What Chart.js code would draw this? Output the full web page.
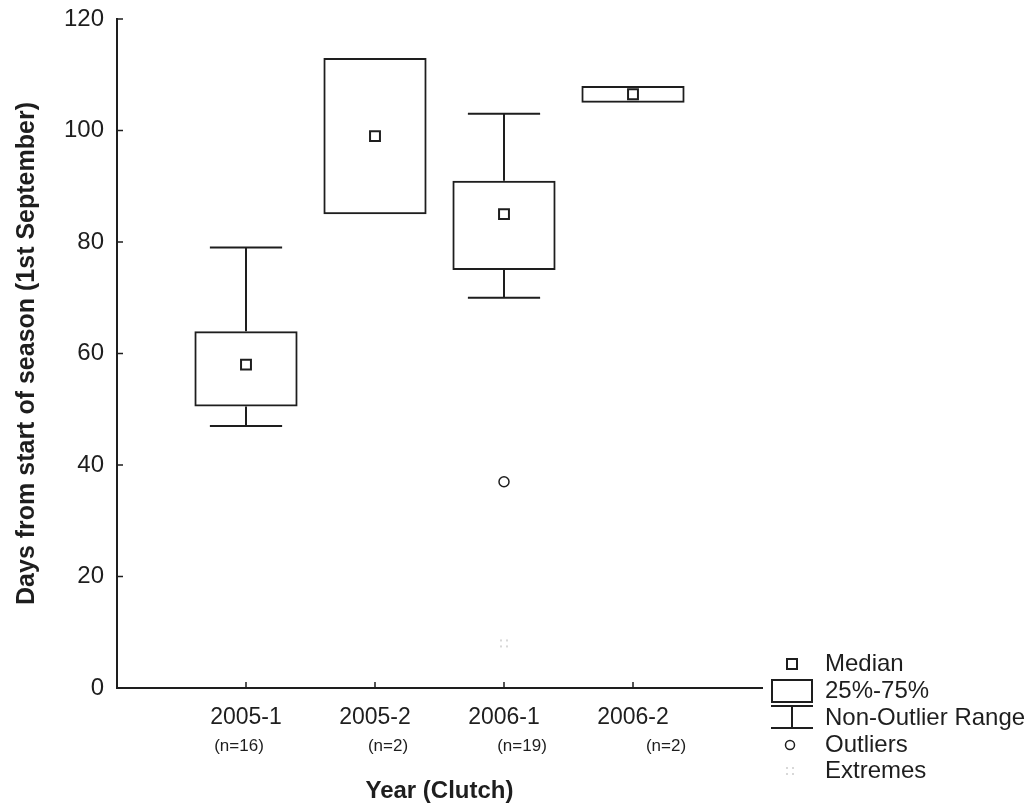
<!DOCTYPE html>
<html>
<head>
<meta charset="utf-8">
<script src="https://cdn.jsdelivr.net/npm/chart.js@4.4.1/dist/chart.umd.min.js"></script>
<style>
  html, body { margin: 0; padding: 0; background: #fff; }
</style>
</head>
<body>
<canvas id="myChart" width="1035" height="807"></canvas>
<script>
const categories = ["2005-1", "2005-2", "2006-1", "2006-2"];
const sampleSizes = ["(n=16)", "(n=2)", "(n=19)", "(n=2)"];
const yTicks = [0, 20, 40, 60, 80, 100, 120];

const medians = [58, 99, 85, 106.5];
const q1 = [50.5, 85, 75, 105];
const q3 = [64, 113, 91, 108];
const whiskerLow = [47, null, 70, null];
const whiskerHigh = [79, null, 103, null];
const outliers = [null, null, 37, null];
const extremes = [null, null, 8, null];

const ink = "#1e1e1e";
const fontFamily = "'Liberation Sans', Arial, Helvetica, sans-serif";

// faint dotted square used for extreme values
function makeExtremeMarker() {
  let c = document.createElement("canvas");
  c.width = 12;
  c.height = 12;
  let g = c.getContext("2d");
  g.fillStyle = "#d8d8d8";
  [[2, 2], [8, 2], [2, 8], [8, 8]].forEach(([px, py]) => g.fillRect(px, py, 2, 2));
  return c;
}
const extremeMarker = makeExtremeMarker();

function points(values) {
  let out = [];
  values.forEach((v, i) => {
    if (v != null) out.push({ x: i + 1, y: v });
  });
  return out;
}

const whiskerPlugin = {
  id: "whiskers",
  afterDatasetsDraw(chart) {
    const { ctx, scales: { x, y } } = chart;
    const step = x.getPixelForValue(1) - x.getPixelForValue(0);
    const half = step * 0.28;
    ctx.save();
    ctx.strokeStyle = ink;
    ctx.lineWidth = 2;
    categories.forEach((c, i) => {
      const px = x.getPixelForValue(i + 1);
      [[whiskerLow[i], q1[i]], [whiskerHigh[i], q3[i]]].forEach(([end, edge]) => {
        if (end == null) return;
        const pe = y.getPixelForValue(end);
        ctx.beginPath();
        ctx.moveTo(px, y.getPixelForValue(edge));
        ctx.lineTo(px, pe);
        ctx.moveTo(px - half, pe);
        ctx.lineTo(px + half, pe);
        ctx.stroke();
      });
    });
    ctx.restore();
  },
};

// tick marks point inward, into the plot
const innerTicks = {
  id: "innerTicks",
  afterDraw(chart) {
    const { ctx, chartArea, scales: { x, y } } = chart;
    ctx.save();
    ctx.strokeStyle = ink;
    ctx.lineWidth = 1.5;
    ctx.beginPath();
    yTicks.forEach((t) => {
      const py = y.getPixelForValue(t);
      ctx.moveTo(chartArea.left, py);
      ctx.lineTo(chartArea.left + 6, py);
    });
    categories.forEach((c, i) => {
      const px = x.getPixelForValue(i + 1);
      ctx.moveTo(px, chartArea.bottom);
      ctx.lineTo(px, chartArea.bottom - 6);
    });
    ctx.stroke();
    ctx.restore();
  },
};

const sampleLabels = {
  id: "sampleLabels",
  afterDraw(chart) {
    const { ctx, chartArea, scales: { x } } = chart;
    const shift = [-7, 13, 18, 33];
    ctx.save();
    ctx.fillStyle = ink;
    ctx.font = "17px " + fontFamily;
    ctx.textAlign = "center";
    ctx.textBaseline = "middle";
    sampleSizes.forEach((s, i) => {
      ctx.fillText(s, x.getPixelForValue(i + 1) + shift[i], chartArea.bottom + 58);
    });
    ctx.restore();
  },
};

const keyPlugin = {
  id: "key",
  afterDraw(chart) {
    const ctx = chart.ctx;
    const sx = 792;
    const tx = 825;
    const rows = [664, 691, 718, 745, 771];
    ctx.save();
    ctx.strokeStyle = ink;
    ctx.fillStyle = "#fff";
    ctx.lineWidth = 2;
    // median
    ctx.fillRect(sx - 5, rows[0] - 5, 10, 10);
    ctx.strokeRect(sx - 5, rows[0] - 5, 10, 10);
    // 25%-75%
    ctx.strokeRect(sx - 20, rows[1] - 11, 40, 22);
    // non-outlier range
    ctx.beginPath();
    ctx.moveTo(sx - 21, rows[2] - 12);
    ctx.lineTo(sx + 21, rows[2] - 12);
    ctx.moveTo(sx, rows[2] - 12);
    ctx.lineTo(sx, rows[2] + 10);
    ctx.moveTo(sx - 21, rows[2] + 10);
    ctx.lineTo(sx + 21, rows[2] + 10);
    ctx.stroke();
    // outliers
    ctx.lineWidth = 1.5;
    ctx.beginPath();
    ctx.arc(sx - 2, rows[3], 4.5, 0, Math.PI * 2);
    ctx.stroke();
    // extremes
    ctx.drawImage(extremeMarker, sx - 8, rows[4] - 6);

    ctx.fillStyle = ink;
    ctx.font = "24px " + fontFamily;
    ctx.textAlign = "left";
    ctx.textBaseline = "middle";
    ["Median", "25%-75%", "Non-Outlier Range", "Outliers", "Extremes"].forEach((t, i) => {
      ctx.fillText(t, tx, rows[i]);
    });
    ctx.restore();
  },
};

new Chart("myChart", {
  type: "bar",
  data: {
    datasets: [
      {
        type: "scatter",
        label: "Median",
        data: points(medians),
        pointStyle: "rect",
        radius: 7,
        borderWidth: 2,
        borderColor: ink,
        backgroundColor: "#fff",
        order: 1,
      },
      {
        type: "scatter",
        label: "Outliers",
        data: points(outliers),
        pointStyle: "circle",
        radius: 5,
        borderWidth: 1.5,
        borderColor: ink,
        backgroundColor: "#fff",
        order: 1,
      },
      {
        type: "scatter",
        label: "Extremes",
        data: points(extremes),
        pointStyle: extremeMarker,
        order: 1,
      },
      {
        label: "25%-75%",
        data: categories.map((c, i) => ({ x: i + 1, y: [q1[i], q3[i]] })),
        backgroundColor: "rgba(255,255,255,0)",
        borderColor: ink,
        borderWidth: 2,
        borderSkipped: false,
        categoryPercentage: 0.8,
        barPercentage: 1.0,
        order: 2,
      },
    ],
  },
  options: {
    responsive: false,
    animation: false,
    layout: { padding: { left: 0, right: 273, top: 19, bottom: 0 } },
    plugins: {
      legend: { display: false },
      tooltip: { enabled: false },
    },
    scales: {
      x: {
        type: "linear",
        offset: false,
        min: 0,
        max: 5,
        afterBuildTicks: (scale) => {
          scale.ticks = categories.map((c, i) => ({ value: i + 1 }));
        },
        afterFit: (scale) => {
          scale.height = 119;
        },
        grid: { display: false, drawTicks: false, offset: false },
        border: { display: true, color: ink, width: 2 },
        ticks: {
          autoSkip: false,
          maxRotation: 0,
          padding: 16,
          color: ink,
          font: { family: fontFamily, size: 23 },
          callback: (v) => categories[v - 1],
        },
        title: {
          display: true,
          text: "Year (Clutch)",
          color: ink,
          font: { family: fontFamily, size: 24, weight: "bold" },
          padding: { top: 0, bottom: 1 },
        },
      },
      y: {
        type: "linear",
        min: 0,
        max: 120,
        afterBuildTicks: (scale) => {
          scale.ticks = yTicks.map((v) => ({ value: v }));
        },
        afterFit: (scale) => {
          scale.width = 117;
          scale.paddingTop = 0;
          scale.paddingBottom = 0;
        },
        grid: { display: false, drawTicks: false },
        border: { display: true, color: ink, width: 2 },
        ticks: {
          padding: 13,
          color: ink,
          font: { family: fontFamily, size: 24 },
        },
        title: {
          display: true,
          text: "Days from start of season (1st September)",
          color: ink,
          font: { family: fontFamily, size: 25, weight: "bold" },
          padding: { top: 12, bottom: 0 },
        },
      },
    },
  },
  plugins: [whiskerPlugin, innerTicks, sampleLabels, keyPlugin],
});
</script>
</body>
</html>
